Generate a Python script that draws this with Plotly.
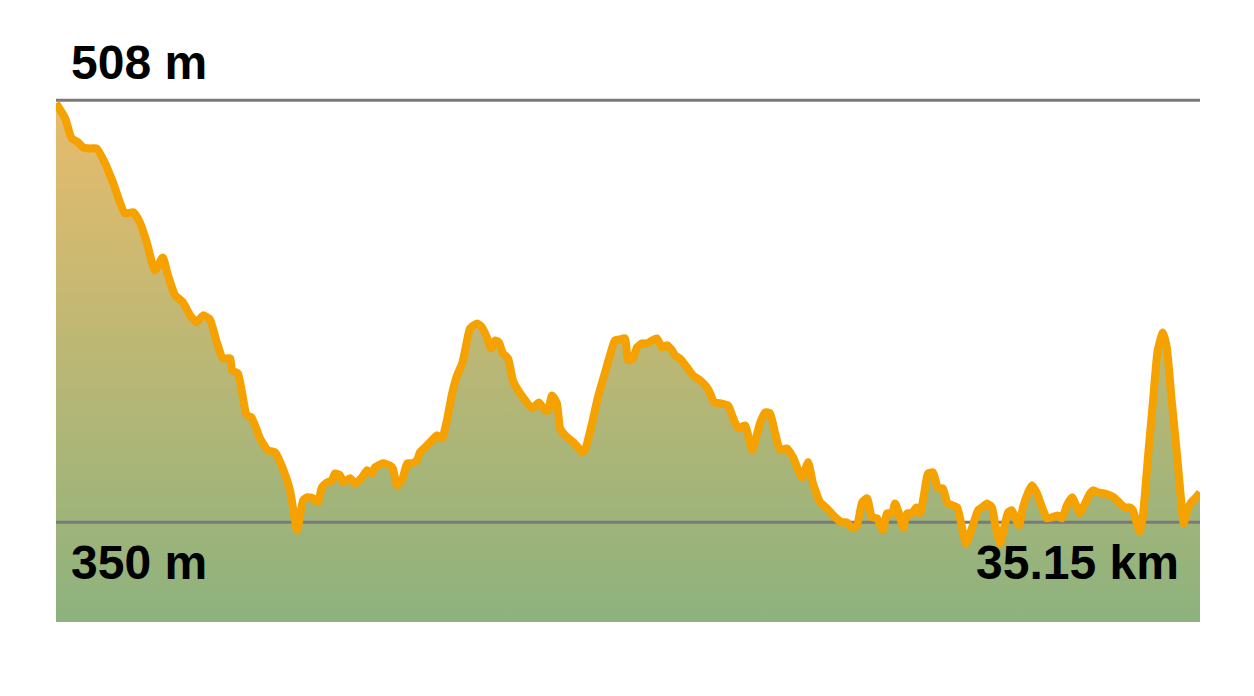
import plotly.graph_objects as go

# Distance along the route (km)
distance_km = [
    0.00, 0.28, 0.48, 0.68, 0.83, 1.04, 1.25, 1.51, 1.75, 2.12, 2.37, 2.58, 2.79, 3.04, 3.28, 3.44,
    3.66, 3.90, 4.12, 4.32, 4.52, 4.73, 4.94, 5.13, 5.35, 5.41, 5.59, 5.86, 6.01, 6.27, 6.51, 6.73,
    6.97, 7.19, 7.41, 7.59, 7.71, 7.90, 8.05, 8.17, 8.33, 8.48, 8.57, 8.73, 8.82, 9.03, 9.19, 9.40,
    9.56, 9.71, 9.80, 10.05, 10.26, 10.35, 10.48, 10.63, 10.79, 10.94, 11.09, 11.18, 11.34, 11.55,
    11.71, 11.86, 12.01, 12.17, 12.32, 12.48, 12.63, 12.72, 12.94, 13.09, 13.24, 13.37, 13.49, 13.61,
    13.73, 13.89, 14.04, 14.20, 14.35, 14.63, 14.84, 15.03, 15.12, 15.24, 15.39, 15.49, 15.64, 15.89,
    16.04, 16.16, 16.25, 16.47, 16.65, 16.87, 17.02, 17.17, 17.33, 17.48, 17.58, 17.73, 17.85, 18.01,
    18.16, 18.31, 18.46, 18.62, 18.77, 18.93, 19.02, 19.17, 19.39, 19.57, 19.79, 20.00, 20.10, 20.22,
    20.40, 20.65, 20.80, 20.96, 21.17, 21.39, 21.63, 21.79, 21.94, 22.09, 22.25, 22.46, 22.65, 22.92,
    23.11, 23.26, 23.48, 23.69, 23.94, 24.15, 24.30, 24.46, 24.61, 24.77, 24.92, 25.07, 25.23, 25.41,
    25.53, 25.69, 25.78, 25.90, 26.03, 26.15, 26.30, 26.43, 26.55, 26.70, 26.79, 26.95, 27.10, 27.25,
    27.38, 27.53, 27.69, 27.81, 27.96, 28.15, 28.33, 28.45, 28.61, 28.76, 28.85, 29.01, 29.16, 29.25,
    29.37, 29.47, 29.59, 29.71, 29.87, 29.99, 30.14, 30.30, 30.45, 30.60, 30.76, 30.91, 31.06, 31.22,
    31.37, 31.46, 31.62, 31.77, 31.86, 32.02, 32.17, 32.39, 32.54, 32.69, 32.84, 33.00, 33.09, 33.21,
    33.30, 33.39, 33.55, 33.70, 33.85, 34.01, 34.13, 34.28, 34.44, 34.59, 34.65, 34.76, 34.88, 35.00,
    35.15,
]

# Elevation (m)
elevation_m = [
    506.9, 501.3, 493.8, 492.3, 490.4, 490.0, 490.0, 484.4, 477.3, 465.7, 466.1, 462.3, 454.8, 444.3, 449.2, 442.5,
    435.0, 432.4, 427.5, 424.9, 427.5, 426.0, 417.4, 411.4, 411.4, 406.9, 405.8, 390.1, 389.3, 381.4, 377.0, 376.2,
    370.2, 362.0, 347.0, 358.2, 359.4, 359.0, 357.5, 363.1, 365.0, 365.7, 368.3, 367.6, 365.0, 366.5, 364.6, 366.8,
    369.5, 368.3, 370.6, 372.1, 371.3, 370.2, 363.9, 365.7, 372.1, 372.1, 373.2, 376.2, 378.1, 380.7,
    382.6, 381.4, 388.2, 398.3, 405.0, 409.5, 418.1, 422.6, 424.5, 423.0, 419.3, 415.1, 418.1, 417.4,
    413.3, 411.4, 403.2, 399.4, 396.8, 392.7, 394.9, 391.9, 391.9, 397.5, 394.6, 385.2, 382.6, 380.0,
    378.1, 376.2, 377.0, 387.1, 396.8, 406.2, 412.5, 418.1, 418.5, 418.9, 410.7, 411.4, 415.5, 417.0,
    417.0, 418.1, 418.9, 415.5, 416.3, 414.4, 412.5, 411.4, 408.0, 405.0, 403.2, 400.5, 398.3, 394.9,
    394.6, 393.8, 389.3, 385.2, 386.3, 377.0, 387.1, 391.2, 390.8, 383.7, 377.0, 377.7, 374.3, 366.8,
    372.5, 364.6, 357.5, 355.2, 351.9, 350.0, 350.0, 347.8, 348.9, 357.5, 359.0, 351.9, 351.5, 347.0,
    353.4, 353.4, 357.1, 353.4, 347.8, 353.4, 353.4, 355.6, 353.4, 362.7, 368.3, 368.7, 362.7, 362.7,
    357.5, 356.4, 355.6, 349.6, 342.1, 348.1, 354.5, 355.6, 357.1, 355.6, 349.6, 342.1, 349.6, 353.7,
    354.5, 351.9, 348.9, 355.6, 361.2, 363.9, 360.9, 355.6, 351.5, 351.9, 352.6, 351.5, 356.4, 359.4,
    355.6, 353.4, 357.1, 360.9, 362.0, 361.2, 360.9, 360.1, 359.0, 357.1, 355.6, 355.6, 354.5, 349.6,
    346.3, 351.9, 374.3, 394.6, 414.4, 421.1, 415.5, 395.7, 375.8, 355.6, 349.6, 354.5, 357.5, 359.0,
    361.2,
]

max_elev = 508
min_elev = 350
total_km = 35.15
labels = ["508 m", "350 m", "35.15 km"]

y_bottom = 312.7
y_top = 510.0

fig = go.Figure()

# gradient-filled area (no outline)
fig.add_trace(go.Scatter(
    x=distance_km, y=elevation_m, mode="lines",
    line=dict(width=0, color="rgba(0,0,0,0)", shape="spline", smoothing=0.5),
    fill="tozeroy",
    fillgradient=dict(
        type="vertical",
        colorscale=[[0.0, "#8DB27E"], [1.0, "#E8BC6C"]],
        start=y_bottom, stop=max_elev,
    ),
    hoverinfo="skip", showlegend=False,
))

# reference lines at max / min elevation
for v in (max_elev, min_elev):
    fig.add_trace(go.Scatter(
        x=[0, total_km], y=[v, v], mode="lines",
        line=dict(color="#7A7A7A", width=3),
        hoverinfo="skip", showlegend=False,
    ))

# elevation profile line
fig.add_trace(go.Scatter(
    x=distance_km, y=elevation_m, mode="lines",
    line=dict(color="#F5A100", width=8, shape="spline", smoothing=0.5),
    showlegend=False,
))

font = dict(family="Liberation Sans, Arial, sans-serif", size=48, color="#000000")
fig.add_annotation(x=0, y=max_elev, xref="x", yref="y", text="<b>%s</b>" % labels[0],
                   showarrow=False, xanchor="left", yanchor="middle", xshift=13, yshift=38, font=font)
fig.add_annotation(x=0, y=min_elev, xref="x", yref="y", text="<b>%s</b>" % labels[1],
                   showarrow=False, xanchor="left", yanchor="middle", xshift=13, yshift=-40, font=font)
fig.add_annotation(x=total_km, y=min_elev, xref="x", yref="y", text="<b>%s</b>" % labels[2],
                   showarrow=False, xanchor="right", yanchor="middle", xshift=-19, yshift=-40, font=font)

fig.update_layout(
    width=1254, height=696,
    margin=dict(l=48, r=62, t=87, b=82),
    paper_bgcolor="white", plot_bgcolor="white",
    xaxis=dict(range=[0, total_km], visible=False, fixedrange=True),
    yaxis=dict(range=[y_bottom, y_top], visible=False, fixedrange=True),
    showlegend=False,
)

fig.write_html("out.html")
